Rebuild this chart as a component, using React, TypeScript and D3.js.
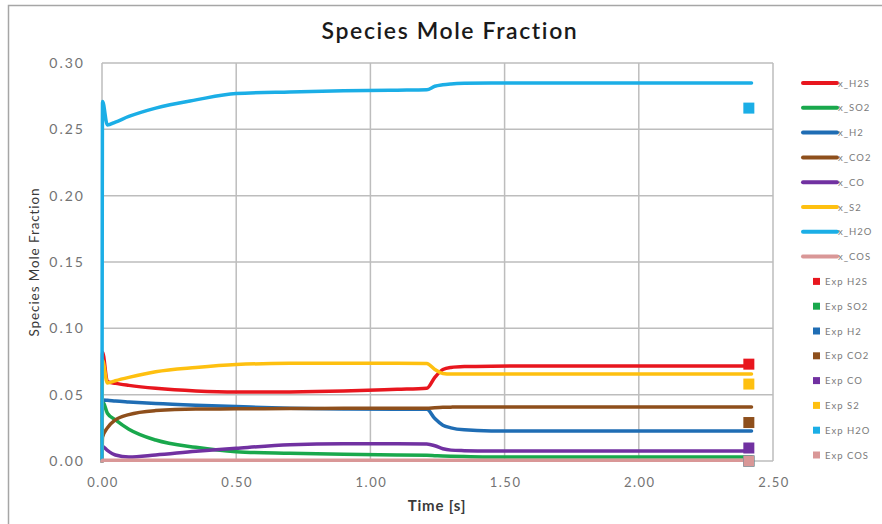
import React from "react";
import * as d3 from "d3";

const times = [0, 0.002, 0.02, 0.05, 0.1, 0.2, 0.35, 0.5, 0.7, 0.9, 1.1, 1.21, 1.24, 1.27, 1.3, 1.35, 1.45, 1.6, 2.0, 2.42];
const xH2S = [0, 0.082, 0.0598, 0.0585, 0.057, 0.0548, 0.0528, 0.052, 0.0521, 0.0527, 0.054, 0.0548, 0.063, 0.069, 0.0705, 0.0712, 0.0715, 0.0716, 0.0716, 0.0716];
const xSO2 = [0, 0.045, 0.036, 0.031, 0.024, 0.0158, 0.0103, 0.007, 0.0058, 0.005, 0.0045, 0.0043, 0.004, 0.0037, 0.0035, 0.0033, 0.003, 0.003, 0.003, 0.003];
const xH2 = [0, 0.046, 0.0458, 0.0452, 0.0445, 0.0433, 0.042, 0.041, 0.0398, 0.0392, 0.039, 0.039, 0.032, 0.027, 0.025, 0.0235, 0.0227, 0.0226, 0.0226, 0.0226];
const xCO2 = [0, 0.018, 0.025, 0.031, 0.035, 0.038, 0.0392, 0.0393, 0.0395, 0.0397, 0.0398, 0.0398, 0.0402, 0.0405, 0.0406, 0.0407, 0.0407, 0.0407, 0.0407, 0.0407];
const xCO = [0, 0.011, 0.008, 0.0045, 0.003, 0.0045, 0.0073, 0.0096, 0.0122, 0.013, 0.013, 0.0128, 0.0115, 0.0092, 0.0082, 0.0078, 0.0075, 0.0075, 0.0075, 0.0075];
const xS2 = [0, 0.076, 0.0588, 0.0605, 0.063, 0.0673, 0.0705, 0.0727, 0.0736, 0.0737, 0.0737, 0.0735, 0.069, 0.066, 0.0656, 0.0656, 0.0656, 0.0656, 0.0656, 0.0656];
const xH2O = [0, 0.271, 0.2533, 0.2555, 0.2597, 0.266, 0.2722, 0.277, 0.2782, 0.279, 0.2795, 0.2798, 0.2825, 0.2836, 0.2842, 0.2847, 0.285, 0.285, 0.285, 0.285];
const xCOS = [0, 0.0005, 0.0005, 0.0005, 0.0005, 0.0005, 0.0005, 0.0005, 0.0005, 0.0005, 0.0005, 0.0005, 0.0005, 0.0005, 0.0005, 0.0005, 0.0005, 0.0005, 0.0005, 0.0005];

const expTime = 2.41;
const expNames = ["Exp H2S", "Exp SO2", "Exp H2", "Exp CO2", "Exp CO", "Exp S2", "Exp H2O", "Exp COS"];
const expValues = [0.073, 0.0, 0.0, 0.029, 0.0098, 0.058, 0.266, 0.0];

const seriesNames = ["x_H2S", "x_SO2", "x_H2", "x_CO2", "x_CO", "x_S2", "x_H2O", "x_COS"];
const seriesValues = [xH2S, xSO2, xH2, xCO2, xCO, xS2, xH2O, xCOS];
const colors = ["#E8161E", "#19A84C", "#1F6DB4", "#8E4F1C", "#7131A1", "#FEC010", "#1BAEE6", "#D99797"];

const xTicks = [0, 0.5, 1.0, 1.5, 2.0, 2.5];
const yTicks = [0, 0.05, 0.1, 0.15, 0.2, 0.25, 0.3];

const FONT = "Lato, 'Open Sans', sans-serif";

export default function App() {
  const W = 882, H = 524;
  const left = 102, right = 773, top = 63, bottom = 461;
  const x = d3.scaleLinear().domain([0, 2.5]).range([left, right]);
  const y = d3.scaleLinear().domain([0, 0.3]).range([bottom, top]);
  const line = d3
    .line<number>()
    .x((_, i) => x(times[i]))
    .y((v) => y(v))
    .curve(d3.curveMonotoneX);

  const legendX = 803;
  const legendY0 = 83;
  const legendStep = 24.8;

  return (
    <svg width={W} height={H} style={{ position: "absolute", left: 0, top: 0, background: "#fff" }}>
      <rect x={0} y={0} width={W} height={H} fill="#fff" />
      <rect x={8.5} y={5.5} width={900} height={560} fill="none" stroke="#A6A6A6" strokeWidth={1.5} />
      <text x={450} y={39} textAnchor="middle" fontFamily={FONT} fontSize={23} fontWeight={600} letterSpacing={1.6} fill="#1a1a1a">
        Species Mole Fraction
      </text>
      {/* grid */}
      {yTicks.map((t) => (
        <line key={"gy" + t} x1={left} x2={right} y1={y(t)} y2={y(t)} stroke="#BDBDBD" strokeWidth={1.5} />
      ))}
      {xTicks.map((t) => (
        <line key={"gx" + t} x1={x(t)} x2={x(t)} y1={top} y2={bottom} stroke="#BDBDBD" strokeWidth={1.5} />
      ))}
      {yTicks.map((t) => (
        <text key={"ty" + t} x={85} y={y(t) + 5} textAnchor="end" fontFamily={FONT} fontSize={14} letterSpacing={2} fill="#737373">
          {d3.format(".2f")(t)}
        </text>
      ))}
      {xTicks.map((t) => (
        <text key={"tx" + t} x={x(t) + 1} y={487} textAnchor="middle" fontFamily={FONT} fontSize={13} letterSpacing={1.5} fill="#737373">
          {d3.format(".2f")(t)}
        </text>
      ))}
      <text x={437} y={511} textAnchor="middle" fontFamily={FONT} fontSize={15} fontWeight={700} letterSpacing={0.8} fill="#3a3a3a">
        Time [s]
      </text>
      <text transform={`translate(39,262) rotate(-90)`} textAnchor="middle" fontFamily={FONT} fontSize={13.5} letterSpacing={0.9} fill="#3a3a3a">
        Species Mole Fraction
      </text>
      {/* lines */}
      {seriesValues.map((vals, i) => (
        <path key={"l" + i} d={line(vals) || ""} fill="none" stroke={colors[i]} strokeWidth={3.5} strokeLinejoin="round" strokeLinecap="round" />
      ))}
      {/* experimental markers */}
      {expValues.map((v, i) => (
        <rect key={"e" + i} x={x(expTime) - 5.5} y={y(v) - 5.5} width={11} height={11} fill={colors[i]} />
      ))}
      {/* legend */}
      {seriesNames.map((n, i) => {
        const ly = legendY0 + i * legendStep;
        return (
          <g key={"lg" + i}>
            <line x1={legendX} x2={legendX + 34} y1={ly} y2={ly} stroke={colors[i]} strokeWidth={4} strokeLinecap="round" />
            <text x={legendX + 35} y={ly + 3.5} fontFamily={FONT} fontSize={9.5} letterSpacing={1} fill="#7a7a7a">
              {n}
            </text>
          </g>
        );
      })}
      {expNames.map((n, i) => {
        const ly = legendY0 + (i + 8) * legendStep;
        return (
          <g key={"le" + i}>
            <rect x={813} y={ly - 3.5} width={7} height={7} fill={colors[i]} />
            <text x={825} y={ly + 3.5} fontFamily={FONT} fontSize={9.5} letterSpacing={1} fill="#7a7a7a">
              {n}
            </text>
          </g>
        );
      })}
    </svg>
  );
}
